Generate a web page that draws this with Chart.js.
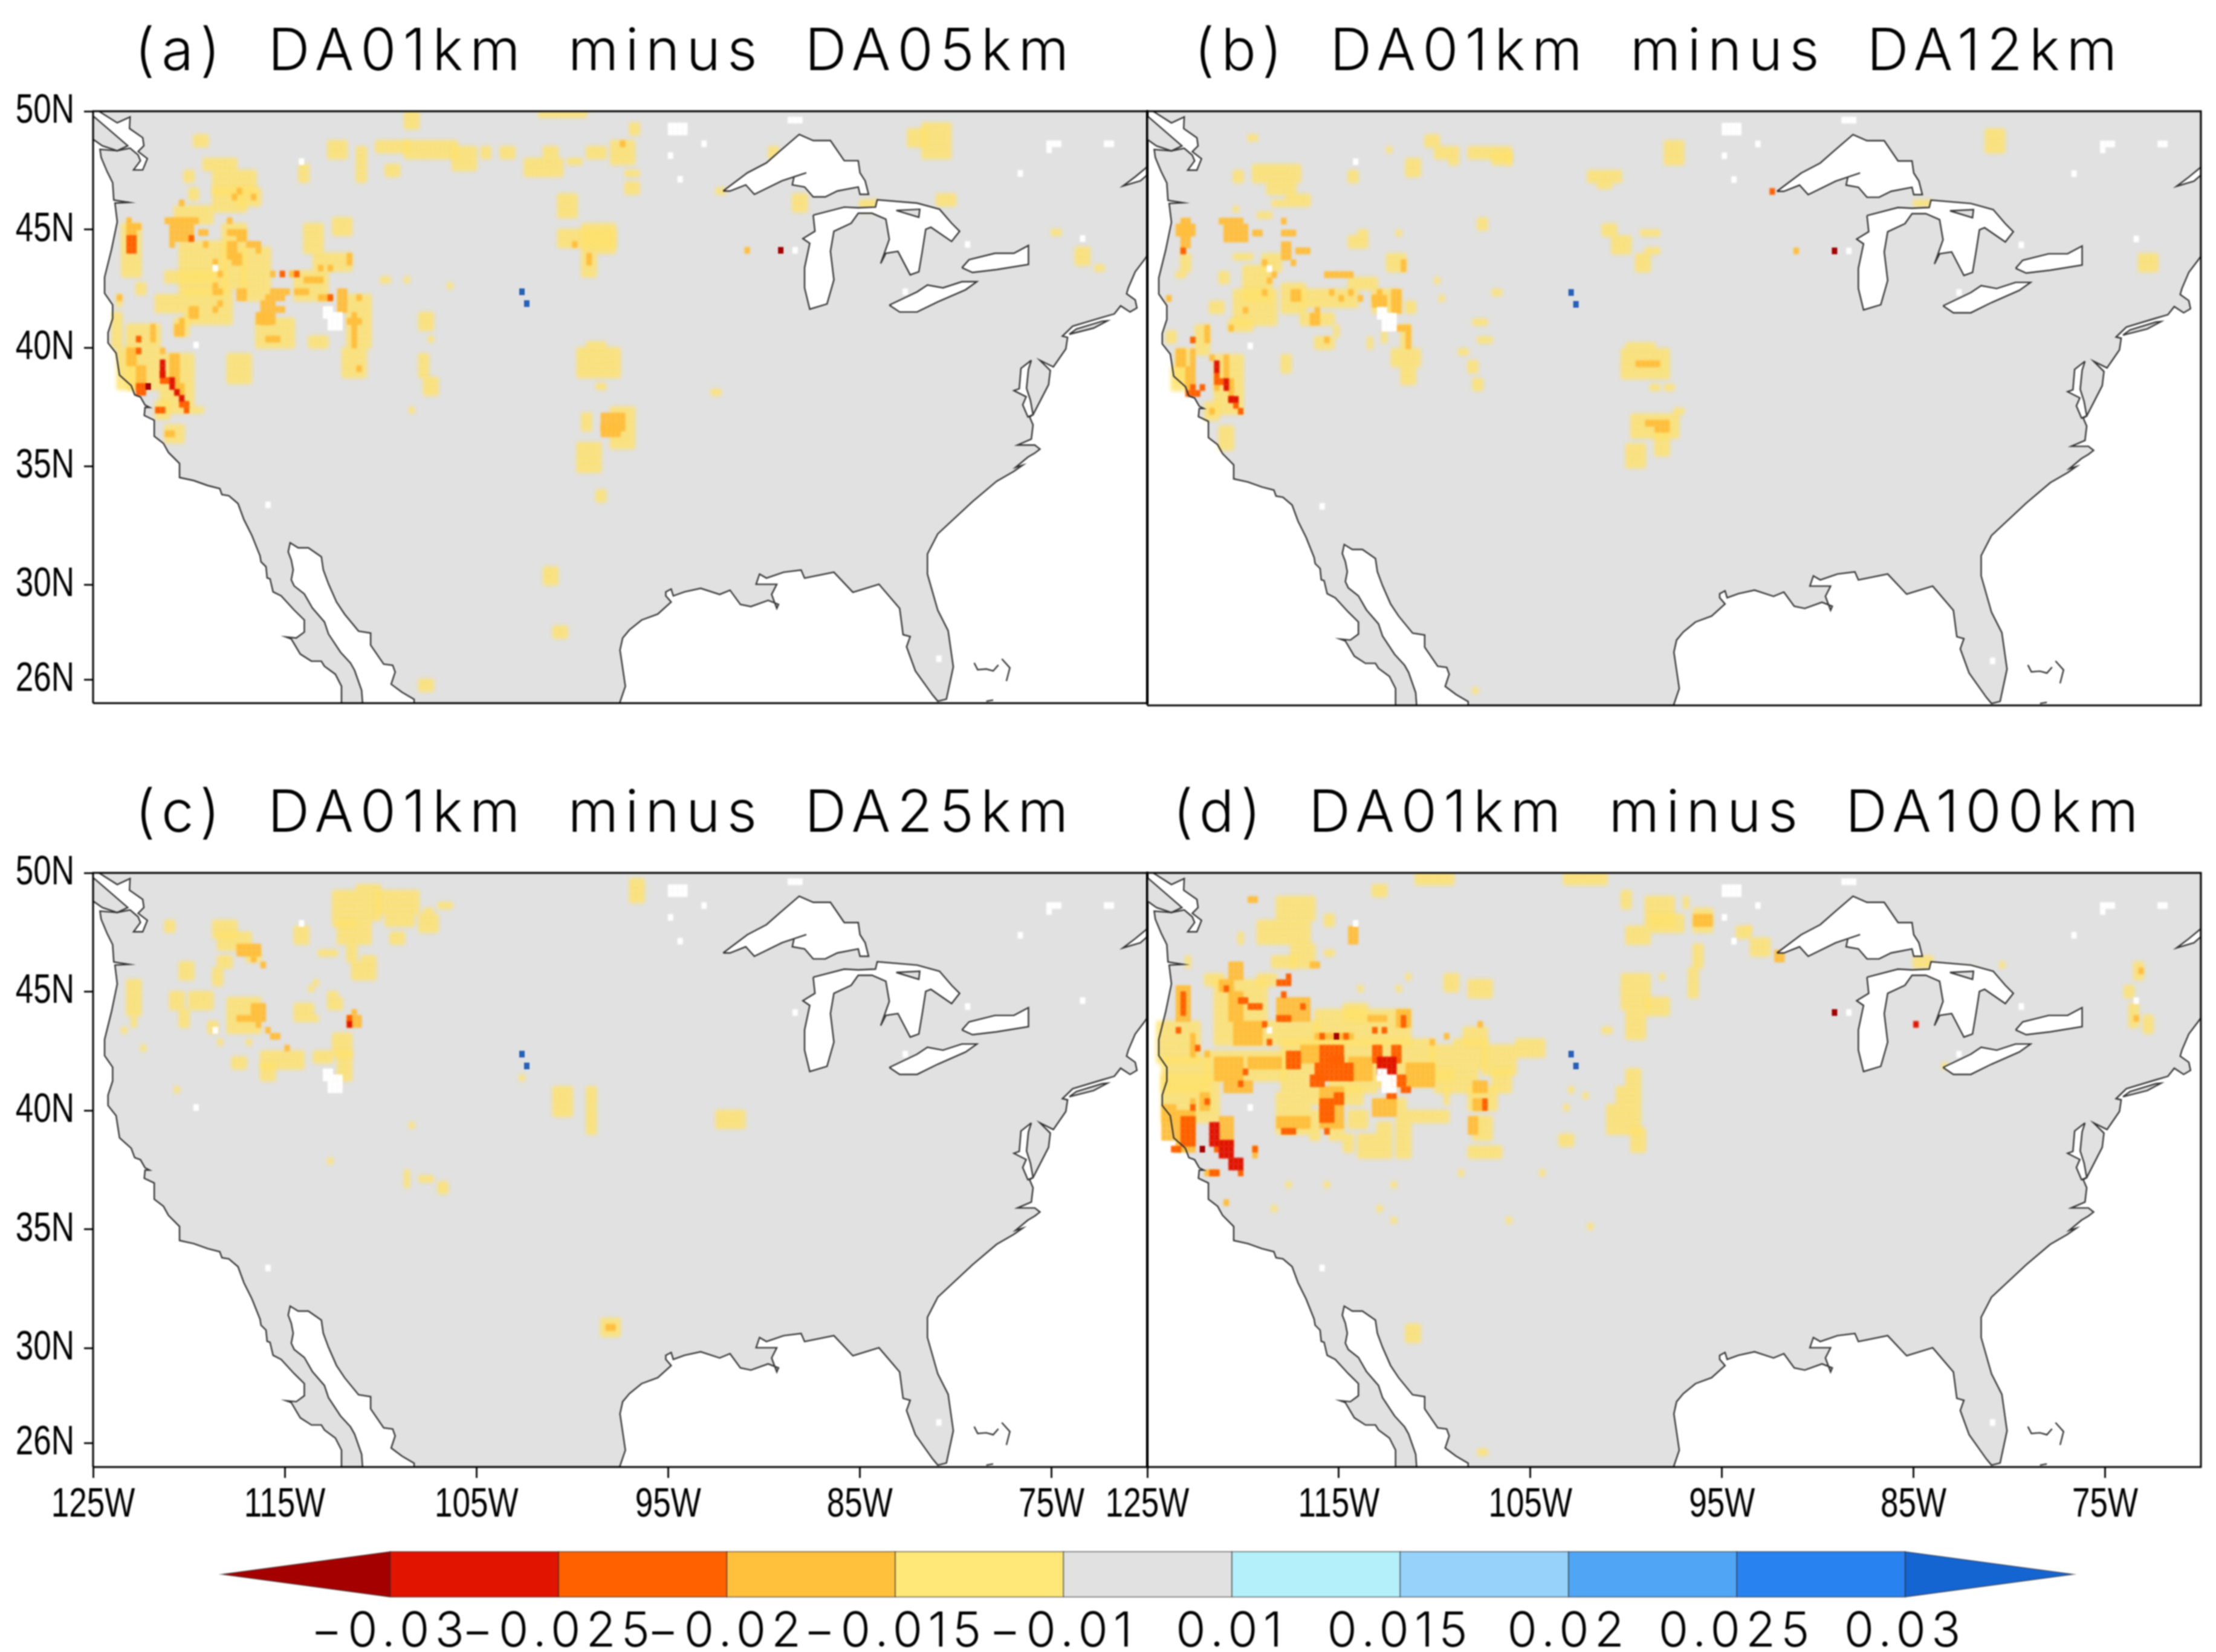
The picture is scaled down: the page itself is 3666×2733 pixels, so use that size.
<!DOCTYPE html>
<html><head><meta charset="utf-8">
<style>html,body{margin:0;padding:0;background:#fff;width:3666px;height:2733px;overflow:hidden}
canvas{position:absolute;filter:blur(1px)}</style>
<script src="https://cdn.jsdelivr.net/npm/chart.js@4/dist/chart.umd.js"></script></head><body>
<script>
// ---- axis content
const latTicks=[26,30,35,40,45,50];
const latLabels=['26N','30N','35N','40N','45N','50N'];
const lonTicks=[-125,-115,-105,-95,-85,-75];
const lonLabels=['125W','115W','105W','95W','85W','75W'];
const panelTitles=['(a) DA01km minus DA05km','(b) DA01km minus DA12km','(c) DA01km minus DA25km','(d) DA01km minus DA100km'];
const barLabels=['\u22120.03','\u22120.025','\u22120.02','\u22120.015','\u22120.01','0.01','0.015','0.02','0.025','0.03'];
const barColors=['#A50000','#E11400','#FF6000','#FFC03C','#FFE878','#E1E1E1','#B4F0FA','#96D2FA','#50A5F5','#2882F0','#1464D2'];
// ---- map outlines, lon/lat
const mainland=[[-124.7,50],[-123.74,49.51],[-123.07,49.76],[-123.1,49.27],[-122.41,48.88],[-122.35,48.54],[-122.65,48.3],[-122.17,48],[-122.41,47.52],[-122.89,47.52],[-122.53,47.91],[-122.65,48.15],[-123.07,48.44],[-123.74,48.33],[-124.64,48.39],[-124.58,48.05],[-124.28,47.47],[-123.98,46.98],[-123.92,46.25],[-123.13,46.15],[-123.86,46.12],[-123.74,45.33],[-124.04,44.16],[-124.4,42.99],[-124.4,42.31],[-123.98,41.82],[-123.98,41.24],[-124.22,40.65],[-124.22,40.21],[-123.8,39.78],[-123.62,38.85],[-123.01,38.41],[-122.83,38.02],[-122.53,37.93],[-122.29,37.59],[-122.05,37.49],[-122.29,37.49],[-122.33,37.15],[-121.81,36.95],[-121.81,36.27],[-121.33,35.97],[-121.07,35.59],[-120.49,35.12],[-120.49,34.53],[-119.75,34.4],[-119.02,34.19],[-118.39,34.06],[-118.28,33.81],[-117.92,33.76],[-117.44,33.43],[-117.13,32.75],[-116.71,32.07],[-116.29,31.22],[-116.24,30.97],[-115.98,30.76],[-115.92,30.29],[-115.77,30.25],[-115.61,29.7],[-115.19,29.53],[-114.51,28.93],[-113.98,28.51],[-113.98,28],[-114.4,27.75],[-114.93,27.79],[-114.66,27.71],[-114.19,27.07],[-113.61,26.77],[-113.09,26.77],[-112.93,26.56],[-112.36,26.22],[-112.04,25.71],[-112.04,25],[-110.94,25],[-110.99,25.54],[-111.36,26.39],[-111.57,26.69],[-112.09,27.15],[-112.72,27.92],[-112.93,28.43],[-113.56,29.02],[-113.98,29.61],[-114.51,29.95],[-114.66,30.21],[-114.56,30.63],[-114.66,31.05],[-114.82,31.39],[-114.72,31.77],[-114.3,31.56],[-113.77,31.56],[-113.09,31.18],[-112.99,30.63],[-112.72,30.04],[-112.3,29.27],[-111.88,28.76],[-111.15,28.04],[-110.52,27.96],[-110.52,27.45],[-109.84,26.65],[-109.37,26.6],[-109.24,26.31],[-109.45,25.8],[-108.88,25.46],[-108.25,25.16],[-108.25,25],[-97.53,25],[-97.23,25.71],[-97.37,26.48],[-97.51,27.24],[-97.37,27.75],[-97.02,28.09],[-96.38,28.51],[-95.54,28.76],[-94.84,29.27],[-95.12,29.53],[-95.12,29.7],[-94.84,29.82],[-94.73,29.53],[-94.14,29.7],[-93.3,29.85],[-92.31,29.59],[-91.77,29.77],[-91.23,29.17],[-90.68,29.08],[-89.78,29.34],[-89.24,29.17],[-89.33,29],[-89.6,29.59],[-89.33,30.02],[-90.41,30.02],[-90.23,30.45],[-89.87,30.28],[-88.97,30.53],[-88.06,30.62],[-87.88,30.28],[-86.35,30.53],[-85.36,29.68],[-84,30.02],[-82.92,29],[-82.74,27.89],[-82.37,27.81],[-82.56,27.38],[-82.1,26.36],[-81.2,25.34],[-80.93,25.08],[-80.48,25.17],[-80.12,26.53],[-80.39,28.06],[-80.93,28.92],[-81.47,30.45],[-81.47,31.3],[-80.93,32.15],[-79.12,33.51],[-77.86,34.37],[-76.96,34.79],[-76.5,35.05],[-76.87,34.96],[-76.23,35.39],[-75.87,35.56],[-75.6,35.73],[-75.87,35.9],[-76.77,35.9],[-76.05,36.15],[-75.96,36.75],[-76.14,37.09],[-75.96,37.18],[-75.15,38.45],[-75.06,39.05],[-75.6,39.48],[-74.9,39.2],[-74.25,39.96],[-74.16,40.45],[-74.43,40.5],[-73.89,40.92],[-72.44,41.27],[-71.72,41.44],[-71.39,41.78],[-70.9,41.52],[-70.54,41.69],[-70.63,42.03],[-71.08,42.29],[-70.99,42.54],[-70.63,43.22],[-70.18,43.7],[-70,43.9],[-70,50],[-124.7,50]];
const vancouver=[[-125,49.76],[-124.94,49.76],[-123.19,48.54],[-123.74,48.33],[-124.52,48.54],[-124.94,48.78],[-125,48.78]];
const stLawrence=[[-70,47.65],[-70.63,47.23],[-71.27,46.84],[-70.36,47.06],[-70,47.31]];
const superior=[[-92.13,46.63],[-90.86,47.4],[-89.87,47.82],[-89.15,48.33],[-88.16,49.02],[-87.43,48.76],[-86.53,48.76],[-85.81,47.91],[-85.08,47.91],[-84.99,47.4],[-84.72,47.06],[-84.54,46.49],[-84.99,46.49],[-85.08,46.8],[-86.17,46.63],[-86.8,46.38],[-87.43,46.38],[-87.88,46.8],[-88.52,46.89],[-88.43,47.23],[-87.79,47.4],[-89.06,47.06],[-90.5,46.49],[-90.95,46.89],[-91.77,46.63]];
const michiganHuron=[[-87.43,45.61],[-85.81,45.95],[-85.08,45.92],[-84.18,45.95],[-84.09,46.26],[-82.01,46.12],[-80.84,45.86],[-80.21,45.27],[-79.79,44.93],[-80.21,44.5],[-81.29,45.1],[-81.56,45.01],[-81.74,44.08],[-81.92,43.22],[-82.37,43.09],[-83.01,44.08],[-83.64,44],[-83.91,43.57],[-83.46,44.59],[-83.64,45.44],[-84.36,45.69],[-85.08,45.69],[-85.45,45.27],[-86.35,44.93],[-86.53,44.08],[-86.35,42.88],[-86.71,41.86],[-87.61,41.64],[-87.88,42.54],[-87.88,43.39],[-87.61,44.42],[-87.97,44.62],[-87.34,44.93]];
const erie=[[-83.46,41.81],[-82.01,42.37],[-81.47,42.66],[-80.66,42.54],[-79.67,42.8],[-78.89,42.8],[-79.48,42.46],[-80.93,41.95],[-82.01,41.52],[-82.92,41.52]];
const ontario=[[-79.67,43.39],[-79.3,43.73],[-77.95,44],[-76.96,44],[-76.2,44.33],[-76.2,43.53],[-77.86,43.31],[-79.12,43.19]];
const chesapeake=[[-76.05,39.48],[-76.59,39.14],[-76.68,38.28],[-76.96,38.2],[-76.32,37.94],[-76.5,37.6],[-76.23,37.09],[-75.96,37.18],[-76.1,37.8],[-76.3,38.3],[-76.2,39.1]];
const manitoulin=[[-83.1,45.81],[-81.87,45.86],[-81.92,45.52]];
const longIsland=[[-74.07,40.58],[-72.8,40.84],[-72.08,41.15],[-72.35,41.13],[-73.7,40.8]];
const bahamaA=[[-79.03,26.7],[-78.85,26.41],[-78.4,26.44],[-78.04,26.36],[-77.77,26.61]];
const bahamaB=[[-77.59,26.87],[-77.17,26.49],[-77.35,25.93]];
const bahamaC=[[-78.4,25.08],[-78.04,25.13]];
// ---- grid boxes [col0,col1,row0,row1]; 0.25 degree columns from 125W, rows from 50N
const missing=[[49,51,34,36],[48,49,33,34],[21,21,39,39],[43,43,8,8],[25,25,26,26],[36,36,66,66],[120,123,2,3],[145,147,1,1],[127,127,5,5],[120,120,7,7],[122,122,11,11],[199,201,5,5],[199,199,6,6],[211,212,5,5],[193,193,10,10],[206,206,21,21],[182,182,22,22],[146,146,23,23],[169,169,30,30],[176,176,92,92],[151,151,19,19]];
const aYellow=[[21,23,4,5],[23,29,8,9],[25,33,10,13],[25,31,13,16],[30,34,13,15],[19,20,10,11],[20,21,13,14],[17,24,16,18],[18,27,22,30],[13,18,31,33],[15,25,27,28],[19,28,30,35],[17,19,35,37],[27,31,19,29],[31,36,23,31],[34,41,35,39],[42,48,27,31],[46,53,24,26],[44,47,19,23],[50,53,18,20],[53,57,31,39],[52,56,40,44],[45,48,38,39],[28,32,41,45],[6,9,19,27],[4,5,34,39],[5,5,31,32],[9,10,29,30],[7,13,36,46],[5,8,40,46],[14,20,41,50],[21,22,50,50],[13,15,49,51],[15,18,53,55],[59,65,5,6],[65,75,5,7],[55,56,6,11],[49,52,5,7],[65,67,0,2],[61,63,9,10],[43,44,9,11],[68,70,34,36],[68,69,41,44],[69,71,45,47],[70,70,38,38],[60,61,28,28],[65,65,28,28],[74,74,29,29],[66,66,50,50],[75,79,6,9],[81,82,6,7],[85,87,6,7],[90,97,8,10],[94,96,6,7],[103,106,6,7],[99,101,8,8],[93,102,0,0],[108,112,5,8],[112,113,2,3],[111,113,12,13],[111,113,10,10],[97,100,14,17],[97,108,20,22],[102,108,19,23],[102,104,24,27],[101,109,40,44],[103,106,39,39],[105,106,46,46],[102,103,51,53],[108,112,50,56],[101,105,56,60],[105,106,64,65],[170,173,3,5],[173,178,2,7],[146,148,14,16],[141,142,6,7],[160,163,15,16],[176,179,14,15],[200,201,20,20],[205,207,23,25],[209,210,26,26],[129,130,47,47],[94,96,77,79],[96,98,87,88],[68,70,96,97],[130,131,13,13]];
const aOrange=[[15,20,18,18],[16,20,19,21],[16,16,22,22],[21,21,18,18],[22,23,20,20],[23,23,22,22],[28,28,18,18],[28,31,20,20],[30,31,21,21],[28,29,22,24],[29,30,24,25],[32,33,22,22],[34,34,22,23],[53,53,24,25],[47,47,26,26],[49,49,26,26],[37,37,27,27],[41,41,27,27],[44,47,28,28],[37,40,30,30],[36,39,31,31],[35,37,32,35],[38,39,33,33],[34,36,34,35],[30,31,30,31],[42,44,30,30],[47,49,31,31],[51,52,30,33],[54,54,34,39],[53,55,35,35],[36,38,38,38],[7,9,19,19],[7,8,20,20],[7,7,18,18],[25,25,25,25],[26,26,27,27],[25,25,29,29],[25,26,30,30],[25,25,33,33],[26,26,32,32],[20,21,33,34],[18,18,35,35],[17,18,36,37],[30,30,13,13],[29,29,14,14],[33,33,14,14],[18,18,15,15],[55,55,31,31],[55,55,43,43],[5,5,31,31],[7,8,40,42],[9,10,43,46],[12,12,36,38],[16,17,41,45],[17,18,46,47],[15,15,54,54],[16,16,54,54],[14,14,40,40],[100,100,22,22],[103,103,24,25],[110,110,5,5],[106,110,51,53],[106,109,53,54],[136,136,23,23]];
const aDeep=[[7,8,21,21],[7,8,22,23],[20,20,21,21],[39,39,27,27],[42,42,27,27],[49,49,31,31],[13,14,50,50],[9,10,46,47],[14,14,44,45],[15,15,45,45],[19,19,50,50],[18,19,49,49],[9,9,38,38],[9,9,40,40]];
const aRed=[[14,14,42,44],[16,16,45,46],[18,18,48,48],[17,17,47,47]];
const aDark=[[11,11,46,46],[143,143,23,23]];
const aBlue=[[89,89,30,30],[90,90,32,32]];
const bYellow=[[21,22,4,4],[18,19,10,11],[22,31,9,11],[25,30,12,13],[29,33,14,15],[26,28,15,15],[23,25,17,17],[18,18,16,16],[6,7,27,27],[7,8,24,26],[15,16,27,28],[20,25,26,31],[24,27,24,26],[18,21,24,24],[13,15,32,33],[18,26,30,35],[17,21,35,36],[28,32,29,33],[32,43,30,32],[32,38,34,35],[35,38,38,39],[39,39,36,37],[42,47,28,29],[47,52,30,33],[50,53,24,26],[46,46,38,39],[54,55,32,33],[53,54,36,39],[51,56,40,42],[53,55,43,45],[49,49,37,38],[28,29,41,43],[42,45,21,22],[44,45,20,20],[52,52,20,20],[69,70,18,19],[60,60,28,28],[72,73,30,30],[61,61,31,31],[68,70,35,35],[69,71,38,38],[65,66,40,40],[67,68,42,43],[68,69,45,46],[58,60,4,5],[60,64,6,7],[63,64,8,8],[67,75,6,7],[72,75,7,8],[50,50,6,6],[54,56,8,10],[42,43,10,11],[4,5,37,38],[10,12,36,40],[6,8,40,45],[5,7,43,46],[14,19,41,50],[12,14,49,51],[15,17,53,56],[75,75,7,8],[92,98,10,11],[94,96,12,12],[108,111,5,8],[97,100,21,23],[95,97,19,20],[102,104,24,26],[103,106,20,20],[104,106,23,23],[99,108,40,44],[100,105,39,39],[105,106,46,46],[108,109,46,46],[101,110,51,54],[110,111,50,50],[106,108,54,57],[100,103,56,59],[175,178,3,6],[207,210,24,26],[160,163,15,15],[68,68,97,97]];
const bOrange=[[15,19,18,18],[16,20,19,21],[6,9,19,20],[7,8,18,22],[7,7,23,23],[22,23,20,20],[28,28,18,18],[28,30,20,20],[28,29,22,24],[31,33,23,23],[30,30,25,25],[24,24,25,25],[26,26,27,27],[25,25,28,28],[24,24,30,30],[20,20,33,33],[17,17,36,36],[37,42,27,27],[30,31,30,31],[38,38,30,30],[40,40,31,31],[42,42,30,30],[44,44,31,31],[47,47,31,31],[47,49,31,32],[51,52,30,33],[48,48,30,30],[34,35,34,35],[35,35,33,33],[37,37,38,38],[53,53,25,26],[52,52,36,36],[53,54,36,36],[54,54,37,39],[12,12,36,38],[6,7,40,42],[8,9,43,46],[9,9,40,42],[16,16,41,44],[17,17,45,47],[13,13,41,41],[14,14,46,46],[13,13,50,50],[4,4,31,31],[102,106,42,42],[104,108,52,52],[106,108,53,53],[135,135,23,23]];
const bDeep=[[7,7,23,23],[9,9,38,38],[9,9,46,46],[11,11,46,46],[8,10,47,47],[14,14,44,45],[15,15,45,45],[19,19,50,50],[17,17,48,48],[18,18,49,49],[130,130,13,13]];
const bRed=[[14,14,42,43],[16,16,45,46],[17,18,48,48]];
const bDark=[[143,143,23,23]];
const bBlue=[[88,88,30,30],[89,89,32,32]];
const cYellow=[[15,16,8,9],[25,29,8,10],[26,32,10,12],[32,34,13,14],[18,20,15,17],[25,26,16,18],[26,28,14,15],[16,18,20,22],[20,24,20,22],[18,19,23,25],[28,34,21,26],[24,25,25,26],[26,26,28,28],[32,32,28,28],[29,31,31,32],[7,9,18,23],[8,8,24,25],[6,6,26,26],[10,10,29,29],[35,43,30,32],[35,37,32,34],[46,49,30,31],[50,53,27,30],[51,53,30,34],[42,45,22,24],[46,46,24,24],[45,45,19,19],[46,46,18,18],[49,51,21,22],[42,44,9,11],[47,50,13,13],[50,54,3,8],[55,59,2,7],[59,67,3,6],[61,66,7,8],[68,71,7,9],[72,74,5,5],[69,70,6,6],[51,57,8,11],[62,64,10,11],[54,58,15,17],[56,58,14,14],[53,54,12,14],[49,50,20,20],[112,114,1,4],[96,99,36,40],[103,104,36,43],[89,89,34,34],[65,65,50,52],[68,70,51,51],[72,73,52,53],[66,66,42,42],[49,49,48,48],[17,17,36,36],[106,109,75,77],[130,135,40,42]];
const cOrange=[[30,34,12,13],[33,33,14,14],[35,35,15,15],[33,35,22,24],[30,32,24,24],[34,34,25,25],[36,36,26,26],[37,38,27,27],[40,40,29,29],[53,55,24,25],[54,54,23,23],[107,108,76,76]];
const cDeep=[[53,53,24,24]];
const cRed=[[53,53,25,25]];
const cDark=[];
const cBlue=[[89,89,30,30],[90,90,32,32]];
const dYellow=[[56,63,0,1],[87,95,0,1],[47,49,2,3],[27,34,4,7],[23,33,8,11],[19,19,10,11],[37,38,7,8],[30,34,12,15],[37,38,13,13],[26,30,14,15],[23,26,17,18],[12,15,17,18],[8,8,14,15],[2,10,25,31],[14,24,18,28],[25,35,25,28],[12,28,30,34],[3,12,31,36],[3,14,34,41],[28,47,28,33],[48,59,28,35],[28,33,34,36],[38,47,34,36],[35,54,23,28],[41,45,22,24],[27,33,37,43],[34,36,36,38],[34,35,40,44],[38,40,42,44],[41,44,36,38],[42,45,40,42],[44,47,44,47],[48,50,42,47],[52,54,40,47],[50,53,38,39],[41,42,44,46],[59,63,29,34],[60,68,33,36],[64,70,28,32],[70,76,29,33],[72,75,33,36],[77,82,28,30],[55,62,40,41],[62,62,36,38],[67,72,36,39],[68,71,41,44],[67,73,46,47],[66,70,26,28],[86,88,44,45],[88,88,36,36],[91,91,37,37],[87,87,39,39],[62,64,17,19],[67,71,18,20],[54,54,17,17],[52,52,19,19],[44,44,19,19],[42,44,23,23],[65,65,50,50],[82,82,50,50],[37,37,52,52],[29,29,52,52],[51,51,52,52],[26,26,56,56],[48,48,56,56],[51,51,58,58],[75,75,58,58],[92,92,59,59],[104,109,4,8],[105,111,7,9],[100,104,9,11],[99,100,3,5],[112,112,4,5],[125,125,9,9],[99,104,17,22],[104,108,21,23],[100,103,23,27],[114,115,12,15],[113,114,16,20],[107,107,17,17],[95,96,26,26],[100,102,33,35],[98,102,36,38],[96,102,39,43],[101,103,43,46],[123,125,9,10],[126,129,11,13],[206,207,15,17],[204,205,19,20],[205,206,22,25],[208,209,24,26],[54,56,76,78],[69,70,97,97],[160,163,14,15],[168,172,16,17],[178,178,15,15],[166,166,32,32],[114,117,6,9]];
const dOrange=[[21,22,4,4],[42,43,9,11],[34,35,15,15],[17,19,15,17],[6,8,19,24],[9,9,27,30],[15,17,18,19],[17,19,20,24],[18,23,25,28],[27,33,21,24],[14,19,31,34],[21,27,31,32],[16,21,35,36],[32,35,29,31],[42,46,31,34],[54,59,32,35],[47,51,38,40],[36,40,36,42],[27,33,41,42],[11,12,37,39],[15,17,41,45],[6,9,40,46],[3,5,39,44],[68,70,35,36],[68,69,38,39],[67,68,41,43],[46,49,24,24],[35,42,27,27],[52,54,23,25],[12,14,50,50],[16,16,55,55],[22,22,46,47],[12,12,30,30],[9,9,38,38],[59,59,28,28],[62,62,27,27],[69,69,25,25],[114,117,7,8],[131,132,13,14],[207,207,16,16],[206,206,24,24]];
const dDeep=[[7,7,20,23],[6,6,26,26],[27,29,18,18],[29,29,17,17],[19,20,21,21],[21,23,22,22],[28,28,20,20],[27,29,24,24],[32,32,22,22],[16,16,19,19],[24,24,25,25],[25,25,28,28],[10,10,29,29],[29,31,30,32],[36,40,29,31],[38,40,31,31],[35,42,32,34],[34,36,34,35],[39,40,37,38],[36,38,38,41],[28,30,43,43],[37,37,43,43],[36,36,27,27],[41,41,27,27],[47,47,26,26],[49,49,26,26],[53,53,24,25],[47,48,29,31],[51,52,29,31],[51,53,34,35],[53,54,36,36],[50,51,37,37],[70,70,38,39],[20,20,33,33],[19,19,35,35],[7,9,41,45],[5,6,46,46],[22,22,46,46],[14,14,46,46],[13,14,50,50],[19,19,50,50],[9,9,39,39],[12,12,38,38]];
const dRed=[[48,51,31,33],[13,14,42,45],[15,17,45,47],[17,19,48,49],[160,160,25,25]];
const dDark=[[39,39,27,27],[11,11,46,46],[143,143,23,23]];
const dBlue=[[88,88,30,30],[89,89,32,32]];
// ---- layout of the four maps, CSS pixels on the page
const H=983;
const frames=[
 {id:0,left:0,top:0,width:1960,height:1220,px:154,w:1744,py:184,xLab:false,yLab:true,sets:[aYellow,aOrange,aDeep,aRed,aDark,aBlue]},
 {id:1,left:1800,top:0,width:1866,height:1220,px:1898,w:1743,py:184,xLab:false,yLab:false,sets:[bYellow,bOrange,bDeep,bRed,bDark,bBlue]},
 {id:2,left:0,top:1260,width:1960,height:1289,px:154,w:1744,py:184,xLab:true,yLab:true,sets:[cYellow,cOrange,cDeep,cRed,cDark,cBlue]},
 {id:3,left:1800,top:1260,width:1866,height:1289,px:1898,w:1743,py:184,xLab:true,yLab:false,sets:[dYellow,dOrange,dDeep,dRed,dDark,dBlue]}];
const classColors=['#FFE36E','#FFBE3C','#FF6000','#E11400','#A50000','#2660B8'];
const classSoft=[3.2,1.4,1,.8,.5,.4];
function swatch(c,soft){const pad=Math.ceil(soft*3);const k=document.createElement('canvas');k.width=9+pad*2;k.height=11+pad*2;const g=k.getContext('2d');g.filter='blur('+soft+'px)';g.fillStyle=c;g.fillRect(pad,pad,9,11);return k;}
function cellsOf(boxes){const out=[];for(const [c0,c1,r0,r1] of boxes)for(let c=c0;c<=c1;c++)for(let r=r0;r<=r1;r++)out.push({x:-125+(c+.5)*.25,y:50-(r+.5)*.25});return out;}
const pts=a=>a.map(([x,y])=>({x,y}));
const closed=a=>pts([...a,a[0]]);
const polyPlugin={id:'poly',beforeDatasetDraw(chart,args){const ds=chart.data.datasets[args.index];if(!ds.polyFill)return;const c=chart.ctx,a=chart.chartArea,m=args.meta.data;c.save();c.beginPath();if(!ds.noClip){c.rect(a.left,a.top,a.right-a.left,a.bottom-a.top);c.clip();c.beginPath();}m.forEach((p,i)=>i?c.lineTo(p.x,p.y):c.moveTo(p.x,p.y));c.closePath();c.fillStyle=ds.polyFill;c.fill();c.restore();}};
const LINE='#333';
const narrow=new Set([...latLabels,...lonLabels]);
function makeMap(f){
 const cv=document.createElement('canvas');cv.width=f.width;cv.height=f.height;cv.style.left=f.left+'px';cv.style.top=f.top+'px';cv.style.width=f.width+'px';cv.style.height=f.height+'px';document.body.appendChild(cv);
 const list=[];
 const base={showLine:false,pointRadius:0,pointHoverRadius:0};
 list.push({...base,data:closed(mainland),polyFill:'#E1E1E1'});
 list.push({...base,data:closed(vancouver),polyFill:'#E1E1E1'});
 f.sets.forEach((boxes,i)=>{if(boxes.length)list.push({showLine:false,data:cellsOf(boxes),pointStyle:swatch(classColors[i],classSoft[i]),pointRadius:1,pointHoverRadius:1});});
 list.push({showLine:false,data:cellsOf(missing),pointStyle:swatch('#FFFFFF',.8),pointRadius:1,pointHoverRadius:1});
 const stroke={showLine:true,pointRadius:0,borderColor:LINE,borderWidth:2.4,fill:false};
 for(const lake of [superior,michiganHuron,erie,ontario,chesapeake,stLawrence])list.push({...stroke,data:closed(lake),polyFill:'#FFFFFF'});
 for(const isle of [manitoulin,longIsland])list.push({...stroke,data:closed(isle),polyFill:'#E1E1E1'});
 list.push({...stroke,data:pts(mainland)});
 list.push({...stroke,data:pts(vancouver)});
 for(const line of [bahamaA,bahamaB,bahamaC])list.push({...stroke,data:pts(line)});
 list.push({showLine:true,pointRadius:0,borderColor:'#000',borderWidth:3,clip:false,fill:false,data:pts([[-125,25],[-70,25],[-70,50],[-125,50],[-125,25]])});
 list.forEach((d,i)=>{d.order=list.length-i;});
 const pl=f.yLab?0:f.px-f.left;
 const titleDx=-25;
 const g=cv.getContext('2d');const plain=g.fillText.bind(g);
 g.fillText=function(t,x,y,mw){if(narrow.has(t)){g.save();g.translate(x,y);g.scale(.78,1);plain(t,0,0);g.restore();}else if(mw===undefined)plain(t,x,y);else plain(t,x,y,mw);};
 new Chart(cv,{type:'scatter',data:{datasets:list},
  plugins:[polyPlugin,{id:'titleStyle',beforeDraw(chart){const t=chart.titleBlock;if(t&&!t._wrapped){const d=t.draw;t.draw=function(){const c=chart.ctx;c.save();c.letterSpacing='11px';c.wordSpacing='30px';c.translate(titleDx,0);d.call(t);c.restore();};t._wrapped=true;}}}],
  options:{responsive:false,animation:false,devicePixelRatio:1,events:[],
   layout:{padding:{left:pl,right:f.left+f.width-(f.px+f.w),top:0,bottom:0}},
   plugins:{legend:{display:false},tooltip:{enabled:false},
    title:{display:true,fullSize:false,text:panelTitles[f.id],color:'#000',font:{family:'Inter',size:96,weight:'300',lineHeight:1},padding:{top:39,bottom:49}}},
   scales:{
    x:{type:'linear',min:-125,max:-70,border:{display:false},
     grid:{display:f.xLab,drawOnChartArea:false,drawTicks:f.xLab,tickLength:18,tickWidth:3,tickColor:'#111'},
     afterBuildTicks:s=>{s.ticks=lonTicks.map(v=>({value:v}));},
     afterFit:s=>{s.height=f.height-(f.py+H);},
     ticks:{display:f.xLab,autoSkip:false,maxRotation:0,padding:4,color:'#000',font:{family:'"Liberation Sans"',size:68},callback:(v,i)=>lonLabels[i]}},
    y:{type:'linear',min:25,max:50,display:f.yLab,border:{display:false},
     grid:{display:true,drawOnChartArea:false,drawTicks:true,tickLength:15,tickWidth:3,tickColor:'#111'},
     afterBuildTicks:s=>{s.ticks=latTicks.map(v=>({value:v}));},
     afterFit:s=>{if(f.yLab)s.width=f.px;},
     ticks:{autoSkip:false,padding:16,color:'#000',font:{family:'"Liberation Sans"',size:68},callback:(v,i)=>latLabels[i]}}}}});
}
frames.forEach(makeMap);
// ---- colour bar
(function(){
 const cv=document.createElement('canvas');cv.width=3666;cv.height=180;cv.style.left='0px';cv.style.top='2553px';cv.style.width='3666px';cv.style.height='180px';document.body.appendChild(cv);
 const last=barColors.length-1;
 const list=barColors.map((col,i)=>({showLine:true,pointRadius:0,borderColor:'rgba(40,40,40,.65)',borderWidth:1.5,polyFill:col,noClip:true,clip:false,
  data:i===0?closed([[1,0],[1,1],[0,.5]]):i===last?closed([[last,0],[last,1],[last+1,.5]]):closed([[i,0],[i+1,0],[i+1,1],[i,1]])}));
 new Chart(cv,{type:'scatter',data:{datasets:list},
  plugins:[polyPlugin,{id:'barText',beforeDraw(c){c.ctx.letterSpacing='9px';}}],
  options:{responsive:false,animation:false,devicePixelRatio:1,events:[],
   layout:{padding:{left:367,right:236,top:14,bottom:0}},
   plugins:{legend:{display:false},tooltip:{enabled:false}},
   scales:{x:{type:'linear',min:0,max:last+1,border:{display:false},grid:{display:false},
     afterBuildTicks:s=>{s.ticks=barLabels.map((_,i)=>({value:i+1}));},
     afterFit:s=>{s.height=91;},
     ticks:{autoSkip:false,maxRotation:0,padding:2,color:'#000',font:{family:'Inter',size:80,weight:'300'},callback:(v,i)=>barLabels[i]}},
    y:{type:'linear',min:0,max:1,display:false}}}});
})();
</script></body></html>
